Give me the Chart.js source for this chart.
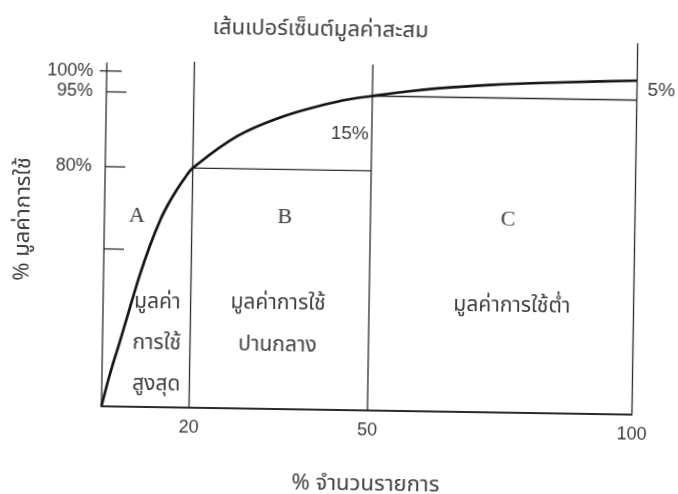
<!DOCTYPE html>
<html><head><meta charset="utf-8">
<script src="https://cdn.jsdelivr.net/npm/chart.js@4/dist/chart.umd.min.js"></script>
<style>
html,body{margin:0;padding:0;background:#fff;overflow:hidden}
#wrap{width:678px;height:494px;transform:rotate(0.9deg);transform-origin:339px 247px}
canvas{display:block}
</style></head><body>
<div id="wrap"><canvas id="c" width="678" height="494"></canvas></div>
<script>
// ---------------- data ----------------
const curveX = [0, 1.83, 4.0, 6.15, 8.32, 10.51, 12.8, 14.63, 16.48, 18.29, 20, 27.36, 34.54, 41.7, 46.25, 50, 56.5, 62.7, 72.2, 85.4, 100];
const curveY = [0, 10.2, 20.7, 31.4, 42.0, 51.5, 61.0, 67.0, 72.1, 76.5, 80, 86.5, 90.4, 93.05, 94.3, 95, 96.2, 97.1, 98.1, 98.95, 99.67];
const classBounds = [20, 50, 100];        // % of items closing classes A, B, C
const classLevels = [80, 95];             // cumulative % of value closing A, B
const dividerTops = [102.5, 102.5, 108.6];
const axisTop = 102;
const xTicks = [20, 50, 100];
const xTickLabels = ['20', '50', '100'];
const yTicks = [50, 80, 95, 100];
const yTickLabels = ['', '80%', '95%', '100%'];
const classNames = ['A', 'B', 'C'];
const classDescriptions = [['มูลค่า', 'การใช้', 'สูงสุด'], ['มูลค่าการใช้', 'ปานกลาง'], ['มูลค่าการใช้ต่ำ']];
const shareLabels = ['15%', '5%'];
const chartTitle = 'เส้นเปอร์เซ็นต์มูลค่าสะสม';
const xTitle = '% จำนวนรายการ';
const yTitle = '% มูลค่าการใช้';

// ---------------- text placement (data units) ----------------
const placeNames = [[7.4, 62.0], [35.6, 62.5], [76.0, 62.8]];
const placeDescX = [12.4, 34.7, 77.0];
const placeDescY = [[32.6, 19.8, 6.6], [33.2, 19.8], [33.4]];
const placeShares = [[46.3, 87.3], [104.6, 97.3]];

// ---------------- styling ----------------
const THAI = "'Noto Sans Thai', 'Noto Sans Thai Looped', 'Noto Sans', 'DejaVu Sans', sans-serif";
const NUM = "'Liberation Sans', Arial, sans-serif";
const SERIF = "'Liberation Serif', 'DejaVu Serif', serif";
const INK = '#3c3c3c';
const LINE = '#2a2a2a';

// piecewise-linear scale (the schematic axes are not evenly spaced)
function makePiecewise(id, vals, decs) {
  const toDec = v => {
    if (v <= vals[0]) return decs[0] + (v - vals[0]) * (decs[1] - decs[0]) / (vals[1] - vals[0]);
    for (let i = 1; i < vals.length; i++) {
      if (v <= vals[i] || i === vals.length - 1) {
        return decs[i - 1] + (v - vals[i - 1]) * (decs[i] - decs[i - 1]) / (vals[i] - vals[i - 1]);
      }
    }
  };
  const fromDec = d => {
    for (let i = 1; i < decs.length; i++) {
      if (d <= decs[i] || i === decs.length - 1) {
        return vals[i - 1] + (d - decs[i - 1]) * (vals[i] - vals[i - 1]) / (decs[i] - decs[i - 1]);
      }
    }
  };
  class PW extends Chart.LinearScale {
    getPixelForValue(v) {
      if (v === null || v === undefined || isNaN(v)) return NaN;
      return this.getPixelForDecimal(toDec(v));
    }
    getValueForPixel(p) { return fromDec(this.getDecimalForPixel(p)); }
  }
  PW.id = id;
  PW.defaults = Chart.LinearScale.defaults;
  return PW;
}
Chart.register(
  makePiecewise('pwx', [0, 20, 50, 100], [0, 0.165, 0.5014, 1]),
  makePiecewise('pwy', [0, 50, 80, 95, 100, 108.6], [0, 0.423, 0.6445, 0.8464, 0.9027, 1])
);

const seg = (a, b) => ({
  data: [a, b], showLine: true, borderColor: LINE, borderWidth: 1.3,
  pointRadius: 0, clip: false, tension: 0
});

const datasets = [
  {
    data: curveX.map((x, i) => ({x, y: curveY[i]})),
    showLine: true, borderColor: '#141414', borderWidth: 2.7, pointRadius: 0,
    tension: 0.4, cubicInterpolationMode: 'default', clip: false
  },
  seg({x: 0, y: 0}, {x: 0, y: axisTop}),
  ...classBounds.map((b, i) => seg({x: b, y: 0}, {x: b, y: dividerTops[i]})),
  seg({x: classBounds[0], y: classLevels[0]}, {x: classBounds[1], y: classLevels[0]}),
  seg({x: classBounds[1], y: classLevels[1]}, {x: classBounds[2], y: classLevels[1]})
];

const annotate = {
  id: 'annotate',
  afterDatasetsDraw(chart) {
    const {ctx, scales: {x, y}} = chart;
    ctx.save();
    // inward tick marks on the value axis
    ctx.strokeStyle = LINE; ctx.lineWidth = 1.3;
    const x0 = x.getPixelForValue(0);
    const last = y.ticks.length - 1;
    y.ticks.forEach((t, i) => {
      const py = y.getPixelForValue(t.value);
      ctx.beginPath();
      ctx.moveTo(x0 - (i === last ? 7 : 0), py);
      ctx.lineTo(x0 + (i === last ? 15 : 20), py);
      ctx.stroke();
    });
    ctx.fillStyle = INK; ctx.textAlign = 'center'; ctx.textBaseline = 'middle';
    ctx.font = '22px ' + SERIF;
    classNames.forEach((n, i) => ctx.fillText(n, x.getPixelForValue(placeNames[i][0]), y.getPixelForValue(placeNames[i][1])));
    ctx.font = '21px ' + THAI;
    classDescriptions.forEach((lines, i) => lines.forEach((s, j) =>
      ctx.fillText(s, x.getPixelForValue(placeDescX[i]), y.getPixelForValue(placeDescY[i][j]))));
    ctx.font = '19px ' + NUM;
    shareLabels.forEach((s, i) => ctx.fillText(s, x.getPixelForValue(placeShares[i][0]), y.getPixelForValue(placeShares[i][1])));
    ctx.restore();
  }
};

new Chart(document.getElementById('c'), {
  type: 'scatter',
  data: {datasets},
  plugins: [annotate],
  options: {
    responsive: false, animation: false, devicePixelRatio: 1,
    layout: {padding: {left: 0, right: 43.5, top: 0, bottom: 0}},
    plugins: {
      legend: {display: false}, tooltip: {enabled: false},
      title: {display: true, text: chartTitle, color: INK,
        font: {family: THAI, size: 22, weight: 'normal'}, padding: {top: 18.5, bottom: -6.4}}
    },
    scales: {
      x: {
        type: 'pwx', min: 0, max: 100,
        afterFit: s => { s.height = 84.5; },
        afterBuildTicks: s => { s.ticks = xTicks.map(v => ({value: v})); },
        grid: {display: false, drawTicks: false},
        border: {display: true, color: LINE, width: 2},
        ticks: {autoSkip: false, maxRotation: 0, padding: 10, color: INK,
          font: {family: NUM, size: 18},
          callback: v => { const i = xTicks.indexOf(v); return i >= 0 ? xTickLabels[i] : ''; }},
        title: {display: true, text: xTitle, color: INK,
          font: {family: THAI, size: 22}, padding: {top: 0, bottom: -5}}
      },
      y: {
        type: 'pwy', min: 0, max: 108.6,
        afterFit: s => { s.width = 104; },
        afterBuildTicks: s => { s.ticks = yTicks.map(v => ({value: v})); },
        grid: {display: false, drawTicks: false},
        border: {display: false},
        ticks: {autoSkip: false, padding: 13.5, color: INK,
          font: {family: NUM, size: 18},
          callback: v => { const i = yTicks.indexOf(v); return i >= 0 ? yTickLabels[i] : ''; }},
        title: {display: true, text: yTitle, color: INK,
          font: {family: THAI, size: 22}, padding: {top: 11, bottom: 0}}
      }
    }
  }
});
</script>
</body></html>
